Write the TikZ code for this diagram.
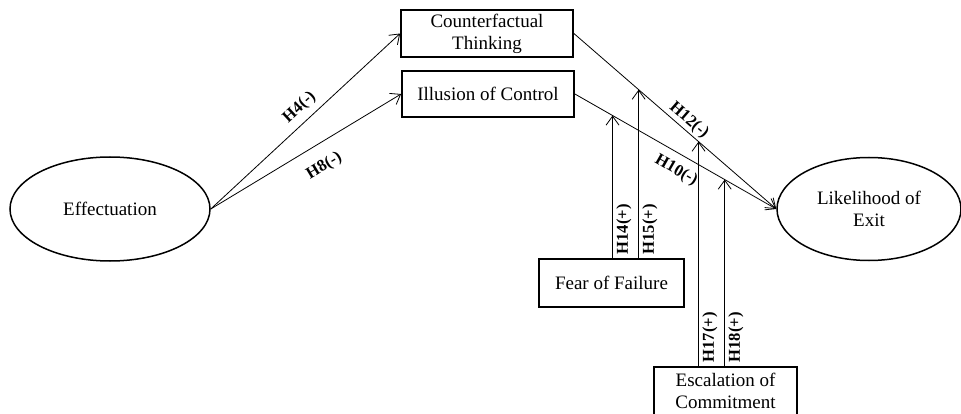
\documentclass[tikz,border=0pt]{standalone}
\usepackage{fontspec}
\setmainfont{Liberation Serif}
\usetikzlibrary{arrows.meta,shapes.geometric}
\newcommand{\mainsize}{\fontsize{19}{22}\selectfont}
\newcommand{\hypsize}{\fontsize{16.6}{19}\selectfont\bfseries}
\tikzset{
  latent/.style={draw, ellipse, line width=1.5pt, inner sep=0pt, font=\mainsize, align=center},
  factor/.style={draw, rectangle, line width=1.8pt, inner sep=0pt, font=\mainsize, align=center},
  link/.style={-{Straight Barb[length=9pt,width=13pt]}, line width=0.8pt},
  hyp/.style={font=\hypsize, inner sep=3.3pt}
}

\begin{document}
\begin{tikzpicture}[x=1pt,y=-1pt]
\useasboundingbox (0,0) rectangle (961,414);
% constructs:
\node[latent, minimum width=200pt, minimum height=104pt] (eff) at (110,209) {Effectuation};
\node[latent, minimum width=184pt, minimum height=103pt] (exit) at (869,209) {Likelihood of\\Exit};
\node[factor, minimum width=172pt, minimum height=47pt] (cft) at (487,33.5) {Counterfactual\\Thinking};
\node[factor, minimum width=172pt, minimum height=46pt] (ioc) at (488,94) {Illusion of Control};
\node[factor, minimum width=145pt, minimum height=48pt] (fof) at (611.5,283) {Fear of Failure};
\node[factor, minimum width=143pt, minimum height=48pt] (esc) at (725.5,391) {Escalation of\\Commitment};
% direct paths:
\draw[link] (eff.east) -- node[hyp, sloped, above=3pt, pos=0.52] {H4(-)} (cft.west);
\draw[link] (eff.east) -- node[hyp, sloped, below=11pt, pos=0.536] {H8(-)} (ioc.west);
\draw[link] (cft.east) -- coordinate[pos=0.32] (m15) coordinate[pos=0.616] (m17)
      node[hyp, sloped, above=-1.5pt, pos=0.537] {H12(-)} (exit.west);
\draw[link] (ioc.east) -- coordinate[pos=0.187] (m14) coordinate[pos=0.744] (m18)
      node[hyp, sloped, below=5pt, pos=0.543] {H10(-)} (exit.west);
% moderating paths:
\draw[link] (fof.north -| m14) -- node[hyp, rotate=90, anchor=north west, pos=0] {H14(+)} (m14);
\draw[link] (fof.north -| m15) -- node[hyp, rotate=90, anchor=north west, pos=0] {H15(+)} (m15);
\draw[link] (esc.north -| m17) -- node[hyp, rotate=90, anchor=north west, pos=0] {H17(+)} (m17);
\draw[link] (esc.north -| m18) -- node[hyp, rotate=90, anchor=north west, pos=0] {H18(+)} (m18);
\end{tikzpicture}
\end{document}
